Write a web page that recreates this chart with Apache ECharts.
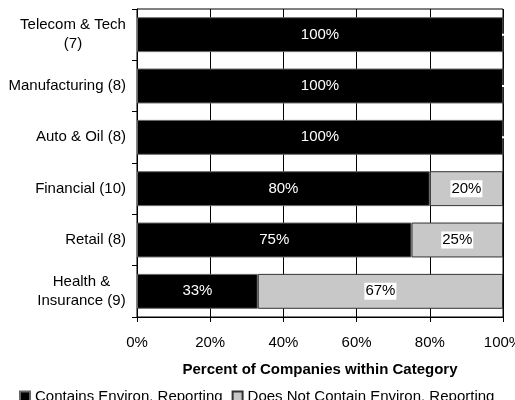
<!DOCTYPE html>
<html>
<head>
<meta charset="utf-8">
<script src="https://cdn.jsdelivr.net/npm/echarts@6/dist/echarts.min.js"></script>
<style>
  html, body { margin: 0; padding: 0; background: #fff; }
  #chart { width: 515px; height: 400px; }
</style>
</head>
<body>
<div id="chart"></div>
<script>
// categories, top to bottom
var categories = ['Telecom & Tech\n(7)', 'Manufacturing (8)', 'Auto & Oil (8)', 'Financial (10)', 'Retail (8)', 'Health &\nInsurance (9)']
var containsReporting = [100, 100, 100, 80, 75, 33]
var notContainReporting = [0, 0, 0, 20, 25, 67]
var seriesNames = ['Contains Environ. Reporting', 'Does Not Contain Environ. Reporting']

var chart = echarts.init(document.getElementById('chart'))
var font = 'Liberation Sans, Arial, sans-serif'

// measure lines so two-line labels are centred inside their own block
var ctx = document.createElement('canvas').getContext('2d')
ctx.font = '15px ' + font
function blockWidth (value) {
  return Math.ceil(Math.max.apply(null, value.split('\n').map(function (l) { return ctx.measureText(l).width })))
}
var yRich = {}
categories.forEach(function (c) {
  if (c.indexOf('\n') >= 0) {
    var w = blockWidth(c)
    yRich['c' + w] = { width: w, align: 'center', fontSize: 15, lineHeight: 19, color: '#000' }
  }
})

var option = {
  animation: false,
  textStyle: { fontFamily: font },
  grid: {
    left: 137,
    right: 12,
    top: 9,
    bottom: 83,
    outerBoundsMode: 'none',
    containLabel: false,
    show: true,
    borderColor: '#000',
    borderWidth: 1
  },
  legend: {
    left: 14,
    top: 384,
    itemWidth: 10,
    itemHeight: 10,
    itemGap: 9,
    icon: 'rect',
    textStyle: { fontSize: 15, color: '#000', fontFamily: font },
    data: seriesNames
  },
  xAxis: {
    type: 'value',
    min: 0,
    max: 100,
    interval: 20,
    axisLine: { show: true, lineStyle: { color: '#000' } },
    axisTick: { show: true, length: 5, lineStyle: { color: '#000' } },
    axisLabel: { formatter: '{value}%', fontSize: 15, color: '#000', margin: 18 },
    splitLine: { show: true, lineStyle: { color: '#000', width: 1 } },
    name: 'Percent of Companies within Category',
    nameLocation: 'middle',
    nameGap: 45,
    nameTextStyle: { fontSize: 15, fontWeight: 'bold', color: '#000' }
  },
  yAxis: {
    type: 'category',
    inverse: true,
    data: categories,
    axisLine: { show: true, lineStyle: { color: '#000' } },
    axisTick: { show: true, length: 5, lineStyle: { color: '#000' } },
    axisLabel: {
      fontSize: 15,
      color: '#000',
      margin: 11,
      lineHeight: 19,
      align: 'right',
      formatter: function (value) {
        if (value.indexOf('\n') < 0) return value
        var w = blockWidth(value)
        return value.split('\n').map(function (l) { return '{c' + w + '|' + l + '}' }).join('\n')
      },
      rich: yRich
    }
  },
  series: [
    {
      name: seriesNames[0],
      type: 'bar',
      stack: 'total',
      barCategoryGap: '32%',
      data: containsReporting,
      itemStyle: { color: '#000', borderColor: '#666', borderWidth: 1 },
      label: {
        show: true,
        position: 'inside',
        color: '#fff',
        fontSize: 15,
        formatter: function (p) { return p.value > 0 ? p.value + '%' : '' }
      }
    },
    {
      name: seriesNames[1],
      type: 'bar',
      stack: 'total',
      data: notContainReporting,
      itemStyle: { color: '#c8c8c8', borderColor: '#333', borderWidth: 1 },
      label: {
        show: true,
        position: 'inside',
        color: '#000',
        fontSize: 15,
        backgroundColor: '#fff',
        padding: [1, 1],
        formatter: function (p) { return p.value > 0 ? p.value + '%' : '' }
      }
    }
  ]
}
chart.setOption(option)
</script>
</body>
</html>
